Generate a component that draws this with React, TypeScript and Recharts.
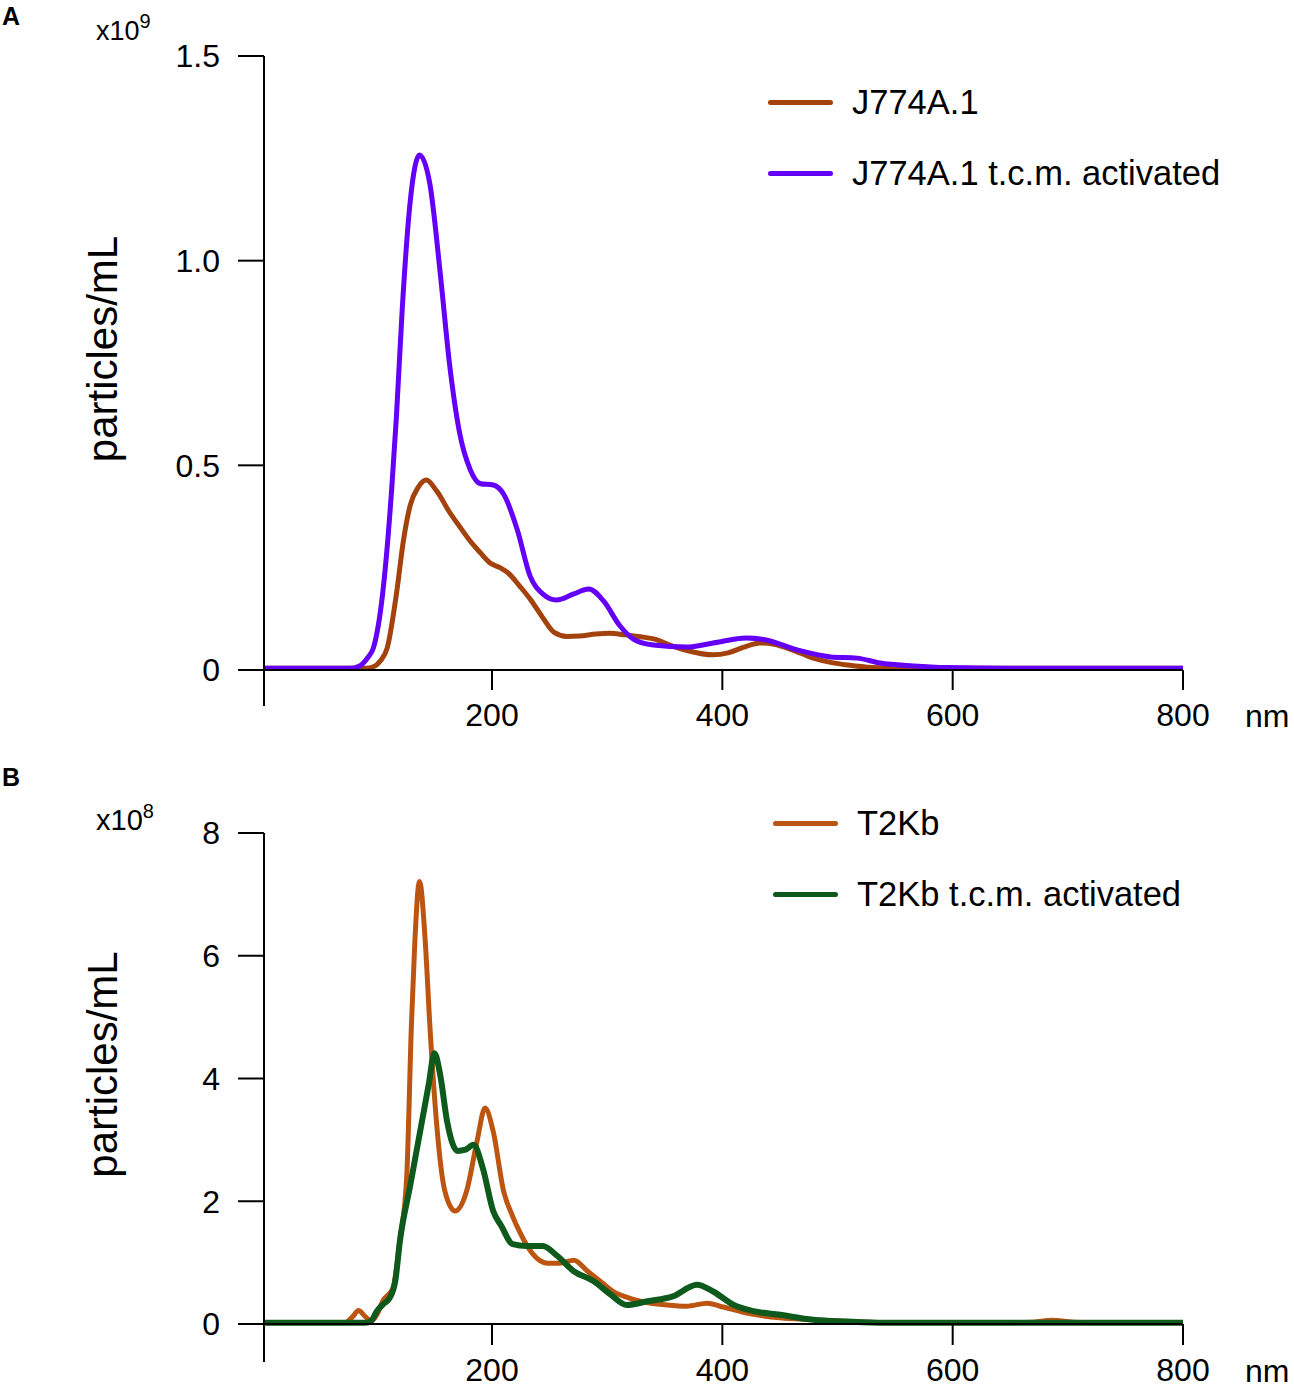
import React from 'react';
import { LineChart, Line, XAxis, YAxis, Legend, ReferenceLine } from 'recharts';

const FONT = '"Liberation Sans", Arial, Helvetica, sans-serif';

// Panel A (x10^9 particles/mL)
const j774Nm = [0, 90, 97, 103, 109, 117, 123, 129, 136, 143, 152, 163, 172, 181, 190, 198, 207, 214, 224, 234, 244, 254, 265, 276, 290, 302, 315, 329, 342, 355, 370, 392, 405, 418, 433, 445, 460, 479, 495, 509, 530, 560, 600, 650, 700, 800];
const j774Val = [0.004, 0.004, 0.008, 0.022, 0.054, 0.186, 0.315, 0.403, 0.447, 0.464, 0.437, 0.386, 0.35, 0.315, 0.286, 0.262, 0.25, 0.237, 0.205, 0.17, 0.128, 0.092, 0.082, 0.083, 0.088, 0.09, 0.086, 0.081, 0.075, 0.06, 0.047, 0.037, 0.042, 0.055, 0.066, 0.063, 0.05, 0.029, 0.018, 0.012, 0.006, 0.004, 0.004, 0.004, 0.004, 0.004];

const j774ActNm = [0, 76, 85, 92, 97, 105, 113, 117, 122, 129, 137, 146, 155, 163, 172, 181, 190, 201, 210, 222, 233, 244, 256, 271, 284, 297, 311, 323, 340, 369, 392, 421, 437, 465, 494, 517, 537, 566, 595, 650, 800];
const j774ActVal = [0.004, 0.004, 0.01, 0.03, 0.054, 0.186, 0.447, 0.62, 0.88, 1.146, 1.258, 1.188, 0.97, 0.75, 0.577, 0.49, 0.455, 0.452, 0.43, 0.342, 0.23, 0.186, 0.171, 0.186, 0.198, 0.168, 0.108, 0.075, 0.061, 0.056, 0.066, 0.078, 0.074, 0.049, 0.032, 0.029, 0.017, 0.01, 0.006, 0.004, 0.004];

// Panel B (x10^8 particles/mL)
const t2kbNm = [0, 72, 79, 84, 90, 95, 100, 105, 114, 120, 126, 130, 133, 137, 142, 146, 152, 159, 168, 178, 187, 194, 201, 210, 218, 224, 235, 248, 259, 271, 283, 295, 305, 318, 329, 352, 369, 387, 398, 421, 450, 479, 510, 560, 640, 670, 686, 705, 730, 800];
const t2kbVal = [0.02, 0.02, 0.12, 0.22, 0.12, 0.05, 0.15, 0.37, 0.59, 1.35, 2.43, 4.87, 6.24, 7.21, 6.24, 4.87, 3.24, 2.17, 1.84, 2.17, 2.98, 3.52, 3.14, 2.17, 1.75, 1.5, 1.15, 0.99, 0.99, 1.04, 0.86, 0.68, 0.53, 0.43, 0.37, 0.31, 0.29, 0.34, 0.29, 0.18, 0.1, 0.07, 0.04, 0.02, 0.02, 0.03, 0.06, 0.03, 0.02, 0.02];

const t2kbActNm = [0, 90, 95, 100, 106, 111, 116, 120, 129, 137, 145, 150, 155, 161, 170, 177, 184, 192, 201, 208, 218, 230, 244, 256, 271, 288, 303, 317, 335, 357, 378, 392, 410, 427, 450, 479, 508, 540, 600, 800];
const t2kbActVal = [0.02, 0.02, 0.05, 0.21, 0.33, 0.42, 0.7, 1.35, 2.26, 3.08, 3.9, 4.41, 4.06, 3.3, 2.82, 2.84, 2.92, 2.54, 1.84, 1.6, 1.3, 1.27, 1.27, 1.12, 0.86, 0.7, 0.48, 0.31, 0.37, 0.45, 0.64, 0.53, 0.31, 0.21, 0.15, 0.07, 0.04, 0.02, 0.02, 0.02];

const xTicks = [200, 400, 600, 800];
const aTicks = [0, 0.5, 1.0, 1.5];
const bTicks = [0, 2, 4, 6, 8];

const zip = (nm: number[], v: number[]) => nm.map((x, i) => ({ nm: x, v: v[i] }));

const LegendBox = ({ payload, lineLeft }: any) => (
  <div style={{ fontFamily: FONT }}>
    {(payload || []).map((p: any) => (
      <div key={p.value} style={{ display: 'flex', alignItems: 'center', height: 71 }}>
        <div style={{ width: 65, height: 5, borderRadius: 3, background: p.color, marginLeft: lineLeft }} />
        <span style={{ fontSize: 34.5, marginLeft: 19, color: '#000', whiteSpace: 'nowrap' }}>{p.value}</span>
      </div>
    ))}
  </div>
);

const YTitle = ({ viewBox, exp, expDy, expSize }: any) => {
  const cx = viewBox.x - 87;
  const cy = viewBox.y + viewBox.height / 2 - 14;
  return (
    <g fontFamily={FONT} fill="#000">
      <text x={cx} y={cy} fontSize={42} textAnchor="middle" transform={`rotate(-90 ${cx} ${cy})`}>
        particles/mL
      </text>
      <text x={viewBox.x - 108} y={viewBox.y + expDy} fontSize={expSize}>
        x10<tspan dy={-12} fontSize={20}>{exp}</tspan>
      </text>
    </g>
  );
};

const NmLabel = ({ viewBox, dy }: any) => (
  <text x={viewBox.x + viewBox.width + 62} y={viewBox.y + dy} fontSize={32} fontFamily={FONT} fill="#000">
    nm
  </text>
);

const tickStyle = { fontSize: 32, fill: '#000', fontFamily: FONT };

export default function App() {
  return (
    <div style={{ position: 'absolute', left: 0, top: 0, width: 1294, height: 1387, background: '#fff' }}>
      <div style={{ position: 'absolute', left: 2, top: 2, fontFamily: FONT, fontWeight: 'bold', fontSize: 25 }}>A</div>
      <div style={{ position: 'absolute', left: 2, top: 763, fontFamily: FONT, fontWeight: 'bold', fontSize: 25 }}>B</div>

      <div style={{ position: 'absolute', left: 0, top: 0 }}>
        <LineChart width={1294} height={760} margin={{ top: 56, right: 111, bottom: 30, left: 204 }}>
          <XAxis
            type="number"
            dataKey="nm"
            domain={[2, 800]}
            ticks={xTicks}
            tickSize={20}
            tickMargin={13}
            tick={tickStyle}
            height={60}
            axisLine={{ stroke: '#000', strokeWidth: 2 }}
            tickLine={{ stroke: '#000', strokeWidth: 2 }}
            allowDataOverflow
            label={<NmLabel dy={57} />}
          />
          <YAxis
            type="number"
            domain={[0, 1.5]}
            ticks={aTicks}
            width={60}
            tickSize={26}
            tickMargin={18}
            tick={tickStyle}
            tickFormatter={(v: number) => (v === 0 ? '0' : v.toFixed(1))}
            axisLine={{ stroke: '#000', strokeWidth: 2 }}
            tickLine={{ stroke: '#000', strokeWidth: 2 }}
            label={<YTitle exp="9" expDy={-16} expSize={27} />}
          />
          <ReferenceLine
            segment={[{ x: 2, y: 0 }, { x: 2, y: -0.088 }]}
            stroke="#000"
            strokeWidth={2}
            ifOverflow="visible"
          />
          <Legend
            layout="vertical"
            verticalAlign="middle"
            align="center"
            wrapperStyle={{ top: 67, left: 0, width: 1294 }}
            content={(props: any) => <LegendBox payload={props.payload} lineLeft={768} />}
          />
          <Line data={zip(j774Nm, j774Val)} dataKey="v" name="J774A.1" type="monotone" stroke="#a3420c" strokeWidth={5} dot={false} isAnimationActive={false} />
          <Line data={zip(j774ActNm, j774ActVal)} dataKey="v" name="J774A.1 t.c.m. activated" type="monotone" stroke="#6400f8" strokeWidth={5} dot={false} isAnimationActive={false} />
        </LineChart>
      </div>

      <div style={{ position: 'absolute', left: 0, top: 760 }}>
        <LineChart width={1294} height={627} margin={{ top: 73, right: 111, bottom: 13, left: 204 }}>
          <XAxis
            type="number"
            dataKey="nm"
            domain={[2, 800]}
            ticks={xTicks}
            tickSize={21}
            tickMargin={13}
            tick={tickStyle}
            height={50}
            axisLine={{ stroke: '#000', strokeWidth: 2 }}
            tickLine={{ stroke: '#000', strokeWidth: 2 }}
            allowDataOverflow
            label={<NmLabel dy={58} />}
          />
          <YAxis
            type="number"
            domain={[0, 8]}
            ticks={bTicks}
            width={60}
            tickSize={26}
            tickMargin={18}
            tick={tickStyle}
            axisLine={{ stroke: '#000', strokeWidth: 2 }}
            tickLine={{ stroke: '#000', strokeWidth: 2 }}
            label={<YTitle exp="8" expDy={-3} expSize={29} />}
          />
          <ReferenceLine
            segment={[{ x: 2, y: 0 }, { x: 2, y: -0.62 }]}
            stroke="#000"
            strokeWidth={2}
            ifOverflow="visible"
          />
          <Legend
            layout="vertical"
            verticalAlign="middle"
            align="center"
            wrapperStyle={{ top: 28, left: 0, width: 1294 }}
            content={(props: any) => <LegendBox payload={props.payload} lineLeft={773} />}
          />
          <Line data={zip(t2kbNm, t2kbVal)} dataKey="v" name="T2Kb" type="monotone" stroke="#bd5512" strokeWidth={5} dot={false} isAnimationActive={false} />
          <Line data={zip(t2kbActNm, t2kbActVal)} dataKey="v" name="T2Kb t.c.m. activated" type="monotone" stroke="#0d5a1c" strokeWidth={6} dot={false} isAnimationActive={false} />
        </LineChart>
      </div>
    </div>
  );
}
